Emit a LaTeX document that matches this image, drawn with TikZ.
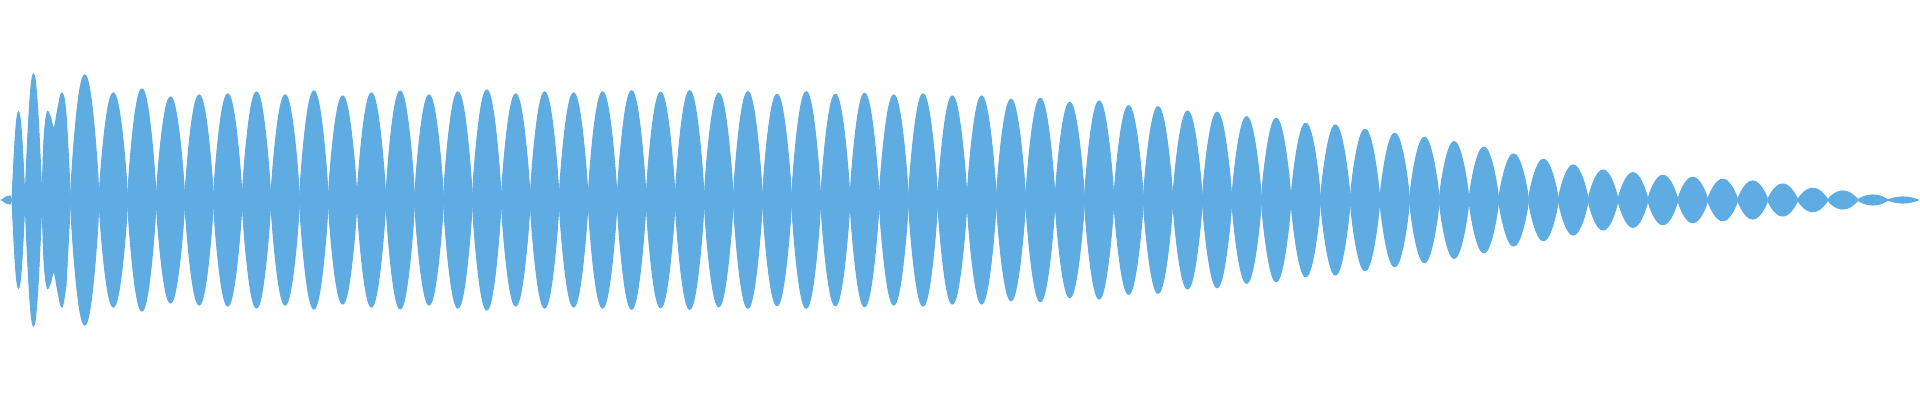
\documentclass[tikz,border=0pt]{standalone}
\definecolor{wave}{RGB}{94,172,226}
\begin{document}
\begin{tikzpicture}[x=0.01cm,y=0.01cm,wavefill/.style={fill=wave,draw=wave,line width=0.3pt}]
\useasboundingbox (0,-200) rectangle (1920,200);
% irregular start
\fill[wavefill] (2,0) -- (6,3) -- (10,4) -- (12,0) -- cycle;
\fill[wavefill] (2,0) -- (6,-3) -- (10,-4) -- (12,0) -- cycle;
\fill[wavefill] plot[domain=0:1,samples=25] ({12+13*\x},{88*sin(180*\x)}) -- plot[domain=1:0,samples=25] ({12+13*\x},{-88*sin(180*\x)}) -- cycle;
\fill[wavefill] plot[domain=0:1,samples=25] ({25+17*\x},{126*sin(180*\x)}) -- plot[domain=1:0,samples=25] ({25+17*\x},{-126*sin(180*\x)}) -- cycle;
\fill[wavefill] plot[smooth,tension=0.6] coordinates {(42,0) (44,60) (47,87) (50,84) (54,72) (58,92) (62,107) (66,85) (70.5,0)}
  -- plot[smooth,tension=0.6] coordinates {(66,-85) (62,-107) (58,-92) (54,-72) (50,-84) (47,-87) (44,-60) (42,0)} -- cycle;
\foreach \A [count=\k] in {125,107,111,103,105,106,108,105,109,104,107,109,105,108,110,106,108,107,108,
  109.3,107.7,109.3,106.7,108.3,105.7,108.3,105.7,106.7,105,106,104,104,100.7,
  101.7,97.7,99,94.3,93.3,89,87.7,83.3,81.7,76.7,
  75,70.7,66.7,62.7,58.3,52.7,46,40.7,35,30,27.3,24.7,22.7,20.7,19,16,11.7,9,5,3}{
  \pgfmathsetmacro\xa{42+28.5*\k+0.0127*\k*\k}
  \pgfmathsetmacro\xb{42+28.5*(\k+1)+0.0127*(\k+1)*(\k+1)}
  \pgfmathsetmacro\w{\xb-\xa}
  \fill[wavefill] plot[domain=0:1,samples=31] ({\xa+\w*\x},{\A*(sin(180*\x))^0.8}) -- plot[domain=1:0,samples=31] ({\xa+\w*\x},{-\A*(sin(180*\x))^0.8}) -- cycle;
}
\end{tikzpicture}
\end{document}
